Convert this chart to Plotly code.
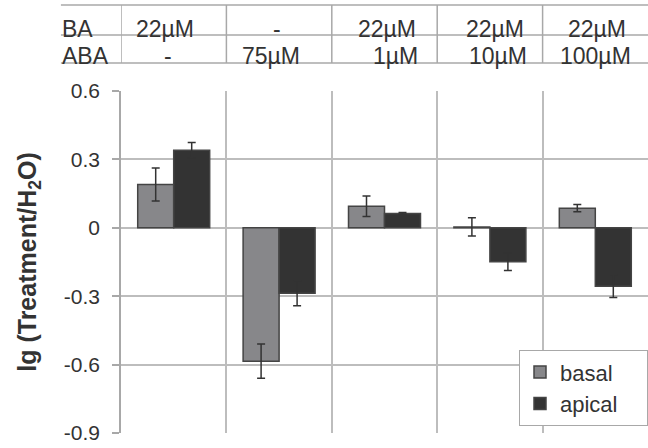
import plotly.graph_objects as go

# ---- data ----
ba_labels = ["22µM", "-", "22µM", "22µM", "22µM"]
aba_labels = ["-", "75µM", "1µM", "10µM", "100µM"]
basal = [0.19, -0.585, 0.095, 0.004, 0.086]
basal_err = [0.072, 0.075, 0.045, 0.040, 0.016]
apical = [0.34, -0.287, 0.063, -0.149, -0.256]
apical_err = [0.034, 0.055, 0.004, 0.038, 0.050]
y_ticks = [0.6, 0.3, 0, -0.3, -0.6, -0.9]
y_tick_text = ["0.6", "0.3", "0", "-0.3", "-0.6", "-0.9"]
series_names = ["basal", "apical"]

x = list(range(len(basal)))
FONT = "Liberation Sans, Arial, sans-serif"
TXT = "#333333"
GRID = "#bdbdbd"
LINE = "#a8a8a8"
PAD = "&nbsp;" * 4

fig = go.Figure()
fig.add_trace(go.Bar(
    x=x, y=basal, name=series_names[0] + PAD,
    marker=dict(color="#87878a", line=dict(color="#444444", width=1.5)),
    error_y=dict(type="data", array=basal_err, visible=True, color="#333333", thickness=1.5, width=4),
))
fig.add_trace(go.Bar(
    x=x, y=apical, name=series_names[1] + PAD,
    marker=dict(color="#333333", line=dict(color="#444444", width=1.5)),
    error_y=dict(type="data", array=apical_err, visible=True, color="#333333", thickness=1.5, width=4),
))

# table above the plot
y_top, y_mid, y_bot = 1.2515, 1.1637, 1.0819
shapes = []
for yy in (y_top, y_mid, y_bot):
    shapes.append(dict(type="line", xref="paper", yref="paper", x0=-0.114, x1=1.0, y0=yy, y1=yy,
                       line=dict(color=LINE, width=1.5)))
for i in range(len(x)):
    shapes.append(dict(type="line", xref="x", yref="paper", x0=i - 0.5, x1=i - 0.5, y0=y_bot, y1=y_top,
                       line=dict(color=LINE, width=1.5)))

ba_nudge = [-0.083, -0.02, 0.02, 0.044, 0.016]
aba_nudge = [-0.054, -0.077, 0.10, 0.077, 0.0]
row1_y, row2_y = 1.181, 1.101
TFS = 23
ann = [
    dict(text="BA", xref="paper", yref="paper", x=-0.116, y=row1_y, xanchor="left", yanchor="middle",
         showarrow=False, font=dict(size=TFS, color=TXT, family=FONT)),
    dict(text="ABA", xref="paper", yref="paper", x=-0.116, y=row2_y, xanchor="left", yanchor="middle",
         showarrow=False, font=dict(size=TFS, color=TXT, family=FONT)),
]
for i in range(len(x)):
    ann.append(dict(text=ba_labels[i], xref="x", yref="paper", x=i + ba_nudge[i], y=row1_y,
                    xanchor="center", yanchor="middle", showarrow=False,
                    font=dict(size=TFS, color=TXT, family=FONT)))
    ann.append(dict(text=aba_labels[i], xref="x", yref="paper", x=i + aba_nudge[i], y=row2_y,
                    xanchor="center", yanchor="middle", showarrow=False,
                    font=dict(size=TFS, color=TXT, family=FONT)))

fig.update_layout(
    width=648, height=448,
    margin=dict(l=121, r=0, t=91, b=15),
    paper_bgcolor="white", plot_bgcolor="white",
    font=dict(family=FONT, color=TXT),
    barmode="group", bargap=0.317, bargroupgap=0,
    showlegend=True,
    legend=dict(x=1, xanchor="right", y=0.02, yanchor="bottom",
                bgcolor="white", bordercolor=LINE, borderwidth=1,
                font=dict(size=22, color=TXT, family=FONT)),
    shapes=shapes, annotations=ann,
    xaxis=dict(range=[-0.5, len(x) - 0.5], tickmode="array", tickvals=[i + 0.5 for i in range(len(x) - 1)],
               showticklabels=False, ticks="", showgrid=True, gridcolor=GRID, gridwidth=1.5,
               zeroline=False, showline=False, fixedrange=True),
    yaxis=dict(range=[-0.9, 0.6], tickmode="array", tickvals=y_ticks, ticktext=y_tick_text,
               ticks="outside", ticklen=7, tickcolor=LINE, tickwidth=1.5,
               ticklabelstandoff=8,
               showline=True, linecolor=LINE, linewidth=1.5,
               showgrid=True, gridcolor=GRID, gridwidth=1.5,
               zeroline=True, zerolinecolor=GRID, zerolinewidth=1.5,
               tickfont=dict(size=21, color=TXT, family=FONT),
               title=dict(text="<b>lg (Treatment/H<sub>2</sub>O)</b>", standoff=20,
                          font=dict(size=25, color=TXT, family=FONT))),
)

fig.write_html("out.html", config={"displayModeBar": False},
               post_script="document.body.style.margin='0';document.body.style.overflow='hidden';")
